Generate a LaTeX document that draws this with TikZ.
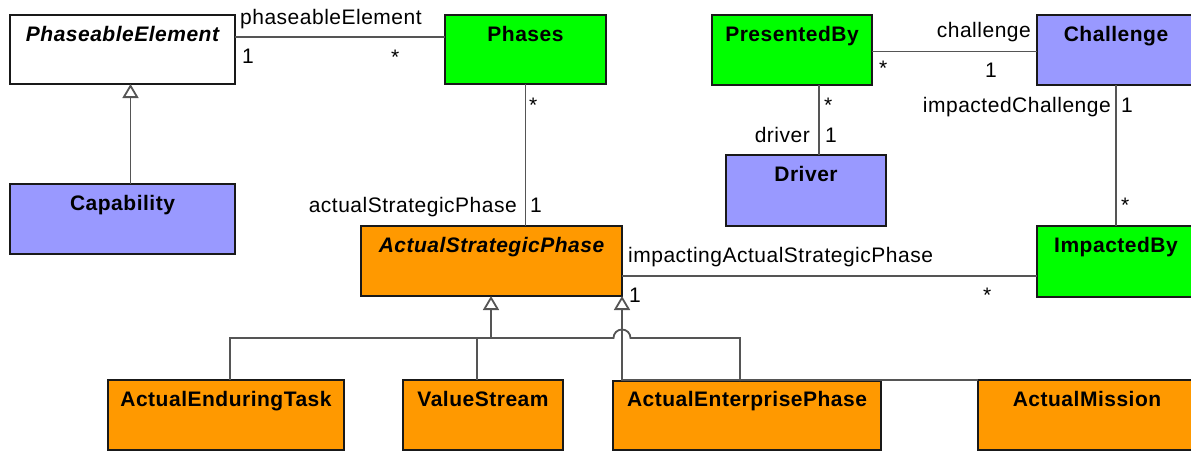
\documentclass[tikz,border=0pt]{standalone}
\usepackage{fontspec}
\setmainfont{Liberation Sans}[LetterSpace=2.4]
\usetikzlibrary{arrows.meta}
\definecolor{umlgreen}{HTML}{00FF00}
\definecolor{umlblue}{HTML}{9999FF}
\definecolor{umlorange}{HTML}{FF9900}
\definecolor{conn}{HTML}{555555}
\begin{document}
\begin{tikzpicture}[x=1pt,y=-1pt,
 cls/.style={draw=black!90, line width=2pt, anchor=north west, inner sep=0pt, outer sep=0pt},
 ttl/.style={anchor=base, font=\fontsize{21}{25}\selectfont\bfseries, inner sep=0pt},
 ttli/.style={anchor=base, font=\fontsize{21}{25}\selectfont\bfseries\itshape, inner sep=0pt},
 lbl/.style={font=\fontsize{21}{25}\selectfont, inner sep=0pt},
 assoc/.style={draw=conn, line width=1.8pt},
 gen/.style={assoc, -{Triangle[open, fill=white, length=14pt, width=16pt]}}]
\useasboundingbox (0,0) rectangle (1191,451);
% classes
\node[cls, fill=white, minimum width=225pt, minimum height=69pt] (pe) at (10,15) {};
\node[cls, fill=umlgreen, minimum width=161pt, minimum height=69pt] (phases) at (445,15) {};
\node[cls, fill=umlgreen, minimum width=160pt, minimum height=70pt] (pb) at (712,15) {};
\node[cls, fill=umlblue, minimum width=158pt, minimum height=70pt] (ch) at (1037,15) {};
\node[cls, fill=umlblue, minimum width=160pt, minimum height=71pt] (drv) at (726,155) {};
\node[cls, fill=umlblue, minimum width=225pt, minimum height=70pt] (cap) at (10,184) {};
\node[cls, fill=umlorange, minimum width=261pt, minimum height=70pt] (asp) at (361,226) {};
\node[cls, fill=umlgreen, minimum width=158pt, minimum height=71pt] (ib) at (1037,226) {};
\node[cls, fill=umlorange, minimum width=236pt, minimum height=70pt] (aet) at (108,380) {};
\node[cls, fill=umlorange, minimum width=160pt, minimum height=70pt] (vs) at (403,380) {};
\node[cls, fill=umlorange, minimum width=268pt, minimum height=69pt] (aep) at (613,381) {};
\node[cls, fill=umlorange, minimum width=218pt, minimum height=70pt] (am) at (978,380) {};
% titles
\node[ttli] (peT) at ([yshift=-26pt]pe.north) {PhaseableElement};
\node[ttl] (phasesT) at ([yshift=-26pt]phases.north) {Phases};
\node[ttl] (pbT) at ([yshift=-26pt]pb.north) {PresentedBy};
\node[ttl] (chT) at ([yshift=-26pt]ch.north) {Challenge};
\node[ttl] (drvT) at ([yshift=-26pt]drv.north) {Driver};
\node[ttl] (capT) at ([yshift=-26pt]cap.north) {Capability};
\node[ttli] (aspT) at ([yshift=-26pt]asp.north) {ActualStrategicPhase};
\node[ttl] (ibT) at ([yshift=-26pt]ib.north) {ImpactedBy};
\node[ttl] (aetT) at ([yshift=-26pt]aet.north) {ActualEnduringTask};
\node[ttl] (vsT) at ([yshift=-26pt]vs.north) {ValueStream};
\node[ttl] (aepT) at ([yshift=-25pt]aep.north) {ActualEnterprisePhase};
\node[ttl] (amT) at ([yshift=-26pt]am.north) {ActualMission};
% associations
\draw[assoc] ([yshift=12.5pt]pe.east) -- ([yshift=12.5pt]phases.west);
\draw[assoc] (phases.south) -- (phases.south |- asp.north);
\draw[assoc] ([yshift=-1.5pt]pb.east) -- ([yshift=-1.5pt]ch.west);
\coordinate (pbd) at ([xshift=27pt]pb.south);
\draw[assoc] (pbd) -- (pbd |- drv.north);
\draw[assoc] (ch.south) -- (ch.south |- ib.north);
\coordinate (aspr) at ([yshift=-15pt]asp.east);
\draw[assoc] (aspr) -- (aspr -| ib.west);
% generalizations
\coordinate (capt) at ([xshift=8pt]cap.north);
\draw[gen] (capt) -- (capt |- pe.south);
\coordinate (g1) at (491,338);
\coordinate (g2) at (622,380);
\draw[gen] (g1) -- (g1 |- asp.south);
\draw[assoc] ([xshift=4pt]aet.north) |- (g1);
\draw[assoc] ([xshift=-6pt]vs.north) -- ([xshift=-6pt]vs.north |- g1);
\draw[assoc] ([xshift=-7pt]aep.north) -- (740,338) -- (630.5,338) arc[start angle=0, end angle=180, radius=8.5pt] -- (g1);
\draw[gen] (am.north west) -- (g2) -- (g2 |- asp.south);
% labels
\node[lbl, anchor=base west] (l1) at (240,24) {phaseableElement};
\node[lbl, anchor=base west] (l2) at (242,63) {1};
\node[lbl, anchor=base west] (l3) at (391,64) {*};
\node[lbl, anchor=base west] (l4) at (529,112) {*};
\node[lbl, anchor=base east] (l5) at (517,212) {actualStrategicPhase};
\node[lbl, anchor=base west] (l6) at (530,212) {1};
\node[lbl, anchor=base east] (l7) at (1031,37) {challenge};
\node[lbl, anchor=base west] (l8) at (879,75) {*};
\node[lbl, anchor=base west] (l9) at (985,77) {1};
\node[lbl, anchor=base west] (l10) at (824,112) {*};
\node[lbl, anchor=base east] (l11) at (810,142) {driver};
\node[lbl, anchor=base west] (l12) at (825,142) {1};
\node[lbl, anchor=base east] (l13) at (1111,112) {impactedChallenge};
\node[lbl, anchor=base west] (l14) at (1121,112) {1};
\node[lbl, anchor=base west] (l15) at (1121,212) {*};
\node[lbl, anchor=base west] (l16) at (628,262) {impactingActualStrategicPhase};
\node[lbl, anchor=base west] (l17) at (629,302) {1};
\node[lbl, anchor=base west] (l18) at (983,302) {*};
\end{tikzpicture}
\end{document}
